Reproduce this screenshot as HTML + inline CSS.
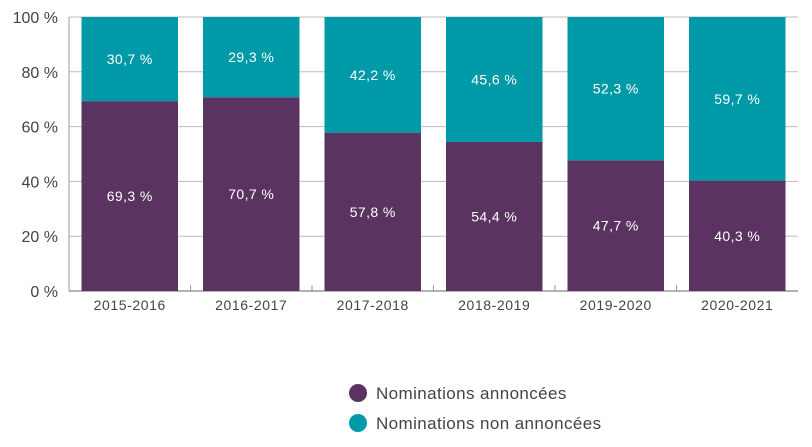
<!DOCTYPE html>
<html><head><meta charset="utf-8"><style>
body{margin:0;background:#fff;font-family:"Liberation Sans",sans-serif}
</style></head><body>
<svg id="c" width="812" height="442" xmlns="http://www.w3.org/2000/svg"></svg>
<script>
const categories=["2015-2016","2016-2017","2017-2018","2018-2019","2019-2020","2020-2021"];
const announced=[69.3,70.7,57.8,54.4,47.7,40.3];
const unannounced=[30.7,29.3,42.2,45.6,52.3,59.7];
const yTicks=[0,20,40,60,80,100];
const NS="http://www.w3.org/2000/svg";
const svg=document.getElementById('c');
const L=69,R=798,T=17,B=291;
const y=v=>B-(v/100)*(B-T);
const band=(R-L)/categories.length;
const x=i=>L+i*band;
function el(t,a,p){const e=document.createElementNS(NS,t);for(const k in a)e.setAttribute(k,a[k]);(p||svg).appendChild(e);return e;}
const fmt=v=>v.toFixed(1).replace('.',',')+' %';
yTicks.forEach(t=>{
 const g=el('line',{x1:L,x2:R,y1:y(t),y2:y(t),stroke:t===0?'#666':'#bbb','stroke-width':1});
 
 
 const tx=el('text',{x:58,y:y(t)+6,'text-anchor':'end','font-size':16,fill:'#444'});
 tx.textContent=t+' %';
 
 
});
const ax=el('line',{x1:L,x2:L,y1:T,y2:B,stroke:'#999','stroke-width':1});


categories.forEach((c,i)=>{
 const bx=x(i)+12.5,bw=band-25;
 const r1=el('rect',{x:bx,y:y(announced[i]),width:bw,height:B-y(announced[i]),fill:'#5a3360'});
 
 
 const r2=el('rect',{x:bx,y:y(100),width:bw,height:y(announced[i])-y(100),fill:'#0099a8'});
 
 
 const t1=el('text',{x:bx+bw/2,y:(y(announced[i])+B)/2+5,'text-anchor':'middle','font-size':14,fill:'#fff','letter-spacing':0.4});
 t1.textContent=fmt(announced[i]);
 
 
 const t2=el('text',{x:bx+bw/2,y:(y(100)+y(announced[i]))/2+5,'text-anchor':'middle','font-size':14,fill:'#fff','letter-spacing':0.4});
 t2.textContent=fmt(unannounced[i]);
 
 
 const cl=el('text',{x:x(i)+band/2,y:310,'text-anchor':'middle','font-size':14,fill:'#444','letter-spacing':0.6});
 cl.textContent=c;
 
 
 if(i>0){const tk=el('line',{x1:x(i),x2:x(i),y1:B-6,y2:B,stroke:'#999'});
 
 }
});
const leg=[["Nominations annoncées","#5a3360",393],["Nominations non annoncées","#0099a8",423]];
leg.forEach(l=>{
 const g=el('g',{});
 
 
 el('circle',{cx:358,cy:l[2],r:9,fill:l[1]},g);
 const t=el('text',{x:376,y:l[2]+6,'font-size':17,fill:'#444','letter-spacing':0.4},g);
 t.textContent=l[0];
});
</script>
</body></html>
